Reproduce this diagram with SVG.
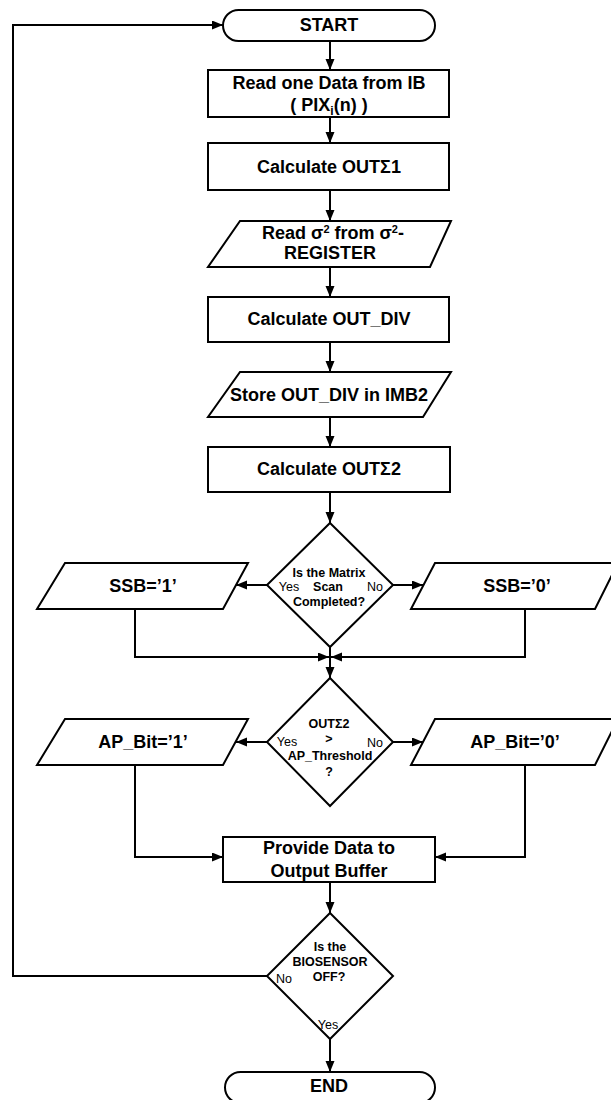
<svg xmlns="http://www.w3.org/2000/svg" width="611" height="1100" viewBox="0 0 611 1100">
<defs>
<marker id="arr" markerUnits="userSpaceOnUse" markerWidth="12" markerHeight="10" refX="11" refY="4.5" orient="auto">
<path d="M0,0 L11,4.5 L0,9 z" fill="#000"/>
</marker>
<style>
.s{fill:#fff;stroke:#000;stroke-width:2}
.c{fill:none;stroke:#000;stroke-width:2;marker-end:url(#arr)}
.t{font-family:"Liberation Sans",Arial,sans-serif;font-weight:bold;font-size:18px;text-anchor:middle;fill:#000}
.d{font-family:"Liberation Sans",Arial,sans-serif;font-weight:bold;font-size:12.5px;text-anchor:middle;fill:#000}
.y{font-family:"Liberation Sans",Arial,sans-serif;font-size:12.5px;text-anchor:middle;fill:#000}
</style>
</defs>
<rect width="611" height="1100" fill="#fff"/>
<g id="connectors">
<path class="c" d="M330,41 V70"/>
<path class="c" d="M330,117 V143"/>
<path class="c" d="M330,190 V221"/>
<path class="c" d="M330,267 V297"/>
<path class="c" d="M330,342 V372"/>
<path class="c" d="M330,417 V447"/>
<path class="c" d="M330,492 V523"/>
<path class="c" d="M267,585 H236"/>
<path class="c" d="M393,585 H423"/>
<path class="c" d="M135,609 V657 H329"/>
<path class="c" d="M525,609 V657 H331"/>
<path class="c" d="M330,647 V678"/>
<path class="c" d="M267,742 H236"/>
<path class="c" d="M393,742 H423"/>
<path class="c" d="M135,765 V857 H223"/>
<path class="c" d="M525,765 V857 H435"/>
<path class="c" d="M330,882 V913"/>
<path class="c" d="M330,1039 V1072"/>
<path class="c" d="M267,976 H13 V25 H223"/>
</g>
<g id="start">
<rect class="s" x="223" y="10" width="212" height="31" rx="15.5"/>
<text class="t" x="329" y="31">START</text>
</g>
<g id="read-data">
<rect class="s" x="208" y="70" width="241" height="47"/>
<text class="t" x="329" y="89">Read one Data from IB</text>
<text class="t" x="329" y="111">( PIX<tspan font-size="12" dy="4">i</tspan><tspan dy="-4">(n) )</tspan></text>
</g>
<g id="calc-out1">
<rect class="s" x="208" y="143" width="241" height="47"/>
<text class="t" x="329" y="173">Calculate OUTΣ1</text>
</g>
<g id="read-sigma">
<polygon class="s" points="240,221 451,221 430,267 208,267"/>
<text class="t" x="333" y="239">Read σ<tspan font-size="11" dy="-6">2</tspan><tspan dy="6"> from σ</tspan><tspan font-size="11" dy="-6">2</tspan><tspan dy="6">-</tspan></text>
<text class="t" x="330" y="259">REGISTER</text>
</g>
<g id="calc-div">
<rect class="s" x="208" y="297" width="241" height="45"/>
<text class="t" x="329" y="325">Calculate OUT_DIV</text>
</g>
<g id="store-div">
<polygon class="s" points="240,372 451,372 423,417 208,417"/>
<text class="t" x="329" y="401">Store OUT_DIV in IMB2</text>
</g>
<g id="calc-out2">
<rect class="s" x="208" y="447" width="242" height="45"/>
<text class="t" x="329" y="475">Calculate OUTΣ2</text>
</g>
<g id="matrix-scan">
<polygon class="s" points="330,523 393,585 330,647 267,585"/>
<text class="d" x="329" y="577">Is the Matrix</text>
<text class="d" x="328" y="591">Scan</text>
<text class="d" x="329" y="606">Completed?</text>
<text class="y" x="289" y="591">Yes</text>
<text class="y" x="375" y="591">No</text>
</g>
<g id="ssb1">
<polygon class="s" points="65,563 248,563 223,609 37,609"/>
<text class="t" x="143" y="592">SSB=’1’</text>
</g>
<g id="ssb0">
<polygon class="s" points="435,563 618,563 595,609 411,609"/>
<text class="t" x="517" y="592">SSB=’0’</text>
</g>
<g id="threshold">
<polygon class="s" points="330,678 393,742 330,806 267,742"/>
<text class="d" x="329" y="728">OUTΣ2</text>
<text class="d" x="329" y="743">&gt;</text>
<text class="d" x="330" y="760">AP_Threshold</text>
<text class="y" x="287" y="746">Yes</text>
<text class="d" x="329" y="776">?</text>
<text class="y" x="375" y="747">No</text>
</g>
<g id="ap1">
<polygon class="s" points="65,719 248,719 223,765 37,765"/>
<text class="t" x="143" y="748">AP_Bit=’1’</text>
</g>
<g id="ap0">
<polygon class="s" points="435,719 618,719 595,765 411,765"/>
<text class="t" x="515" y="748">AP_Bit=’0’</text>
</g>
<g id="provide">
<rect class="s" x="223" y="837" width="212" height="45"/>
<text class="t" x="329" y="854">Provide Data to</text>
<text class="t" x="329" y="877">Output Buffer</text>
</g>
<g id="biosensor">
<polygon class="s" points="330,913 393,976 330,1039 267,976"/>
<text class="d" x="330" y="951">Is the</text>
<text class="d" x="330" y="966">BIOSENSOR</text>
<text class="d" x="329" y="981">OFF?</text>
<text class="y" x="284" y="983">No</text>
<text class="y" x="328" y="1029">Yes</text>
</g>
<g id="end">
<rect class="s" x="225" y="1072" width="210" height="31" rx="15.5"/>
<text class="t" x="329" y="1092">END</text>
</g>
</svg>
